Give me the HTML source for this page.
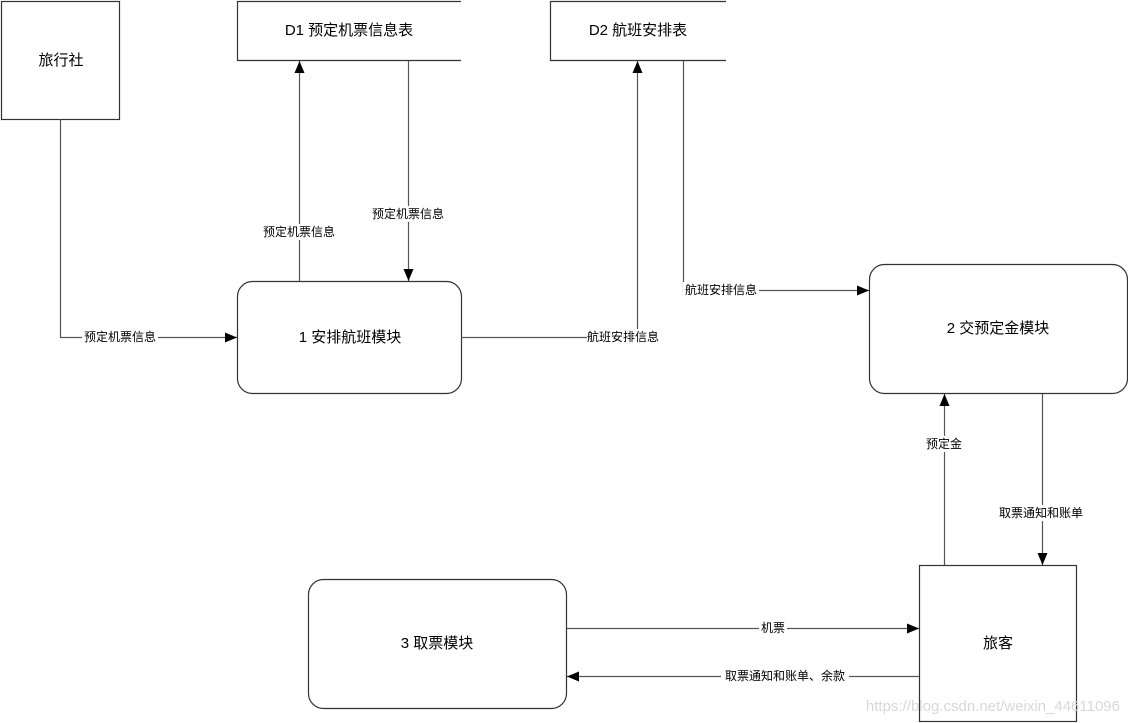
<!DOCTYPE html>
<html><head><meta charset="utf-8"><style>
body{margin:0;background:#fff}
svg{display:block}
text{font-family:"Liberation Sans","Noto Sans CJK SC",sans-serif;fill:#000}
.l{font-size:12px}
.n{font-size:15px}
</style></head><body>
<svg width="1128" height="723" viewBox="0 0 1128 723" xmlns="http://www.w3.org/2000/svg">
<defs><marker id="a" markerWidth="12" markerHeight="10" refX="12" refY="5" orient="auto" markerUnits="userSpaceOnUse"><path d="M0,0 L12,5 L0,10 Z" fill="#000"/></marker></defs>
<g fill="none" stroke="#333" stroke-width="1.2">
<rect x="1.5" y="1.5" width="118" height="118"/>
<path d="M461,1.5 H237.5 V60.5 H461"/>
<path d="M726,1.5 H550.5 V60.5 H726"/>
<rect x="237.5" y="281.5" width="224" height="112" rx="15"/>
<rect x="869.5" y="264.5" width="258" height="129" rx="15"/>
<rect x="308.5" y="579.5" width="258" height="129" rx="15"/>
<rect x="919.5" y="565.5" width="157" height="156"/>
</g>
<g fill="none" stroke="#555" stroke-width="1.2">
<path d="M60.5,119 V337.5 H237" marker-end="url(#a)"/>
<path d="M299.5,281 V61" marker-end="url(#a)"/>
<path d="M408.5,61 V281" marker-end="url(#a)"/>
<path d="M461,337.5 H637.5 V61" marker-end="url(#a)"/>
<path d="M683.5,61 V290.5 H869" marker-end="url(#a)"/>
<path d="M944.5,565 V394" marker-end="url(#a)"/>
<path d="M1042.5,394 V565" marker-end="url(#a)"/>
<path d="M567,628.5 H919" marker-end="url(#a)"/>
<path d="M919,676.5 H567" marker-end="url(#a)"/>
</g>
<g class="n" text-anchor="middle">
<text x="61" y="65">旅行社</text>
<text x="349" y="35">D1 预定机票信息表</text>
<text x="638" y="35">D2 航班安排表</text>
<text x="350" y="342">1 安排航班模块</text>
<text x="998" y="333">2 交预定金模块</text>
<text x="437" y="648">3 取票模块</text>
<text x="998" y="648">旅客</text>
</g>
<g class="l" text-anchor="middle">
<rect x="82" y="329" width="76" height="16" fill="#fff"/><text x="120" y="341">预定机票信息</text>
<rect x="261" y="224" width="76" height="16" fill="#fff"/><text x="299" y="236">预定机票信息</text>
<rect x="370" y="206" width="76" height="16" fill="#fff"/><text x="408" y="218">预定机票信息</text>
<rect x="587" y="329" width="72" height="16" fill="#fff"/><text x="623" y="341">航班安排信息</text>
<rect x="683" y="282" width="76" height="16" fill="#fff"/><text x="721" y="294">航班安排信息</text>
<rect x="924" y="436" width="40" height="16" fill="#fff"/><text x="944" y="448">预定金</text>
<rect x="995" y="505" width="92" height="16" fill="#fff"/><text x="1041" y="517">取票通知和账单</text>
<rect x="759" y="620" width="28" height="16" fill="#fff"/><text x="773" y="632">机票</text>
<rect x="721" y="668" width="128" height="16" fill="#fff"/><text x="785" y="680">取票通知和账单、余款</text>
</g>
<text x="1120" y="711" text-anchor="end" style="font-size:15px;fill:#d8d8d8">https://blog.csdn.net/weixin_44611096</text>
</svg>
</body></html>
